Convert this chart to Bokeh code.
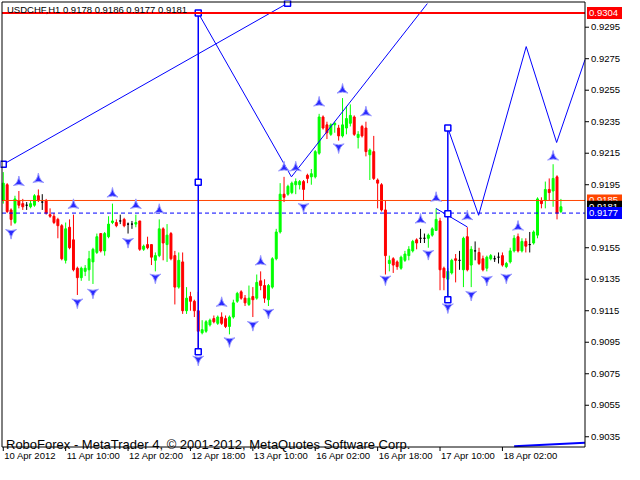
from bokeh.plotting import figure
from bokeh.models import Range1d, ColumnDataSource
from bokeh.core.properties import value
from bokeh.embed import file_html
from bokeh.resources import INLINE

# ---------------- data (USDCHF H1) ----------------
bar_open = [0.9185, 0.9195, 0.9179, 0.9171, 0.9185, 0.9183, 0.9182, 0.9181, 0.9182, 0.9188,
            0.9184, 0.9185, 0.9176, 0.9175, 0.9173, 0.9169, 0.9147, 0.9168, 0.9160, 0.9142,
            0.9136, 0.9140, 0.9141, 0.9146, 0.9152, 0.9164, 0.9153, 0.9162, 0.9171, 0.9171,
            0.9172, 0.9173, 0.9170, 0.9170, 0.9170, 0.9172, 0.9154, 0.9157, 0.9157, 0.9147,
            0.9150, 0.9167, 0.9157, 0.9164, 0.9150, 0.9130, 0.9146, 0.9115, 0.9124, 0.9121,
            0.9115, 0.9101, 0.9102, 0.9106, 0.9110, 0.9107, 0.9111, 0.9110, 0.9105, 0.9111,
            0.9121, 0.9127, 0.9123, 0.9119, 0.9124, 0.9123, 0.9134, 0.9131, 0.9122, 0.9130,
            0.9148, 0.9165, 0.9189, 0.9189, 0.9190, 0.9195, 0.9195, 0.9197, 0.9201, 0.9200,
            0.9200, 0.9215, 0.9238, 0.9233, 0.9227, 0.9233, 0.9231, 0.9226, 0.9231, 0.9234,
            0.9238, 0.9225, 0.9232, 0.9231, 0.9214, 0.9216, 0.9198, 0.9195, 0.9179, 0.9145,
            0.9148, 0.9146, 0.9142, 0.9147, 0.9150, 0.9153, 0.9160, 0.9161, 0.9161, 0.9161,
            0.9163, 0.9166, 0.9172, 0.9142, 0.9135, 0.9139, 0.9148, 0.9147, 0.9141, 0.9162,
            0.9144, 0.9153, 0.9152, 0.9148, 0.9142, 0.9148, 0.9148, 0.9149, 0.9150, 0.9143,
            0.9146, 0.9153, 0.9162, 0.9153, 0.9159, 0.9157, 0.9158, 0.9163, 0.9185, 0.9185,
            0.9192, 0.9191, 0.9200, 0.9178]
bar_high = [0.9203, 0.9196, 0.9180, 0.9188, 0.9191, 0.9186, 0.9184, 0.9185, 0.9189, 0.9192,
            0.9189, 0.9186, 0.9180, 0.9177, 0.9174, 0.9170, 0.9171, 0.9173, 0.9176, 0.9143,
            0.9143, 0.9144, 0.9153, 0.9155, 0.9164, 0.9164, 0.9165, 0.9175, 0.9183, 0.9173,
            0.9176, 0.9174, 0.9171, 0.9172, 0.9176, 0.9172, 0.9157, 0.9162, 0.9157, 0.9152,
            0.9173, 0.9168, 0.9170, 0.9165, 0.9153, 0.9152, 0.9152, 0.9130, 0.9127, 0.9122,
            0.9127, 0.9109, 0.9109, 0.9110, 0.9112, 0.9112, 0.9114, 0.9112, 0.9112, 0.9122,
            0.9127, 0.9128, 0.9125, 0.9131, 0.9130, 0.9138, 0.9140, 0.9135, 0.9132, 0.9149,
            0.9167, 0.9196, 0.9200, 0.9195, 0.9197, 0.9199, 0.9198, 0.9198, 0.9202, 0.9205,
            0.9217, 0.9240, 0.9239, 0.9235, 0.9234, 0.9235, 0.9233, 0.9250, 0.9245, 0.9246,
            0.9239, 0.9229, 0.9233, 0.9235, 0.9218, 0.9226, 0.9199, 0.9196, 0.9185, 0.9150,
            0.9149, 0.9147, 0.9150, 0.9153, 0.9156, 0.9160, 0.9161, 0.9167, 0.9164, 0.9164,
            0.9168, 0.9180, 0.9174, 0.9143, 0.9142, 0.9148, 0.9151, 0.9153, 0.9162, 0.9168,
            0.9156, 0.9159, 0.9155, 0.9150, 0.9150, 0.9151, 0.9150, 0.9152, 0.9152, 0.9146,
            0.9155, 0.9163, 0.9164, 0.9161, 0.9161, 0.9165, 0.9166, 0.9187, 0.9187, 0.9197,
            0.9199, 0.9208, 0.9201, 0.9186]
bar_low = [0.9183, 0.9177, 0.9169, 0.9170, 0.9180, 0.9179, 0.9179, 0.9180, 0.9181, 0.9184,
           0.9179, 0.9176, 0.9174, 0.9170, 0.9161, 0.9147, 0.9145, 0.9154, 0.9140, 0.9125,
           0.9134, 0.9137, 0.9134, 0.9132, 0.9151, 0.9152, 0.9150, 0.9161, 0.9170, 0.9168,
           0.9170, 0.9168, 0.9164, 0.9167, 0.9168, 0.9153, 0.9153, 0.9154, 0.9144, 0.9140,
           0.9149, 0.9147, 0.9146, 0.9147, 0.9119, 0.9129, 0.9113, 0.9113, 0.9115, 0.9111,
           0.9090, 0.9100, 0.9101, 0.9105, 0.9107, 0.9106, 0.9106, 0.9104, 0.9100, 0.9110,
           0.9120, 0.9122, 0.9118, 0.9118, 0.9111, 0.9122, 0.9128, 0.9120, 0.9118, 0.9129,
           0.9147, 0.9164, 0.9184, 0.9188, 0.9189, 0.9189, 0.9192, 0.9185, 0.9196, 0.9195,
           0.9199, 0.9214, 0.9230, 0.9224, 0.9226, 0.9228, 0.9223, 0.9225, 0.9227, 0.9232,
           0.9226, 0.9218, 0.9225, 0.9213, 0.9198, 0.9198, 0.9180, 0.9178, 0.9138, 0.9140,
           0.9139, 0.9141, 0.9141, 0.9146, 0.9147, 0.9152, 0.9154, 0.9158, 0.9158, 0.9155,
           0.9162, 0.9166, 0.9128, 0.9128, 0.9123, 0.9138, 0.9133, 0.9141, 0.9130, 0.9140,
           0.9130, 0.9147, 0.9144, 0.9140, 0.9140, 0.9147, 0.9146, 0.9145, 0.9143, 0.9142,
           0.9145, 0.9152, 0.9152, 0.9152, 0.9152, 0.9152, 0.9157, 0.9161, 0.9180, 0.9180,
           0.9185, 0.9181, 0.9173, 0.9177]
bar_close = [0.9196, 0.9178, 0.9173, 0.9186, 0.9182, 0.9181, 0.9182, 0.9183, 0.9188, 0.9185,
             0.9184, 0.9177, 0.9175, 0.9171, 0.9169, 0.9148, 0.9167, 0.9155, 0.9141, 0.9136,
             0.9142, 0.9142, 0.9148, 0.9154, 0.9162, 0.9153, 0.9164, 0.9170, 0.9172, 0.9169,
             0.9172, 0.9169, 0.9170, 0.9170, 0.9171, 0.9154, 0.9156, 0.9155, 0.9149, 0.9150,
             0.9167, 0.9158, 0.9163, 0.9148, 0.9130, 0.9147, 0.9115, 0.9123, 0.9121, 0.9115,
             0.9102, 0.9103, 0.9108, 0.9109, 0.9108, 0.9111, 0.9107, 0.9105, 0.9111, 0.9120,
             0.9126, 0.9123, 0.9120, 0.9123, 0.9122, 0.9133, 0.9131, 0.9123, 0.9131, 0.9148,
             0.9165, 0.9189, 0.9187, 0.9194, 0.9196, 0.9197, 0.9197, 0.9192, 0.9199, 0.9202,
             0.9216, 0.9238, 0.9231, 0.9228, 0.9233, 0.9234, 0.9226, 0.9233, 0.9237, 0.9239,
             0.9227, 0.9227, 0.9226, 0.9216, 0.9217, 0.9199, 0.9196, 0.9179, 0.9150, 0.9147,
             0.9144, 0.9143, 0.9149, 0.9151, 0.9154, 0.9159, 0.9158, 0.9161, 0.9161, 0.9163,
             0.9167, 0.9173, 0.9141, 0.9136, 0.9140, 0.9147, 0.9147, 0.9147, 0.9161, 0.9141,
             0.9154, 0.9153, 0.9145, 0.9141, 0.9149, 0.9150, 0.9148, 0.9149, 0.9144, 0.9145,
             0.9153, 0.9161, 0.9153, 0.9159, 0.9156, 0.9157, 0.9165, 0.9186, 0.9183, 0.9192,
             0.9190, 0.9199, 0.9177, 0.9181]

# fractal arrows (bar index, price of the arrow)
frac_up_bar = [4, 9, 18, 28, 34, 40, 56, 66, 72, 75, 81, 87, 93, 107, 111, 119, 132, 141]
frac_up_price = [0.91965, 0.91984, 0.91820, 0.91892, 0.91820, 0.91789, 0.91198, 0.91461, 0.92058,
                 0.92058, 0.92470, 0.92552, 0.92408, 0.91727, 0.91865, 0.91748, 0.91682, 0.92127]
frac_dn_bar = [2, 19, 23, 32, 39, 50, 58, 64, 68, 77, 86, 98, 109, 114, 120, 124, 129]
frac_dn_price = [0.91645, 0.91204, 0.91266, 0.91588, 0.91362, 0.90841, 0.90958, 0.91061, 0.91139,
                 0.91810, 0.92189, 0.91350, 0.91512, 0.91173, 0.91252, 0.91348, 0.91362]

# drawn objects
trend_bar = [-0.325, 72.9]
trend_price = [0.92075, 0.93102]
zig1_bar = [50, 73.9, 108.75]
zig1_price = [0.9304, 0.9200, 0.9310]
zig2_bar = [114, 121.9, 134.1, 141.9, 149.175]
zig2_price = [0.9231, 0.91756, 0.92827, 0.92218, 0.92744]
handle_bar = [111, 119]
handle_price = [0.91799, 0.91682]
vert_bar = [50, 114]
vert_top = [0.9304, 0.9231]
vert_bottom = [0.9089, 0.9122]
node_bar = [0, 72.9, 50, 50, 50, 114, 114, 114]
node_price = [0.9208, 0.93102, 0.9304, 0.91965, 0.9089, 0.9231, 0.91766, 0.9122]
base_bar = [131, 149.175]
base_price = [0.90290, 0.90312]

level_price = [0.9304, 0.9185, 0.9181, 0.9177]
level_color = ["#FF0000", "#FF4500", "#000000", "#0000FF"]

price_ticks = [0.9035, 0.9055, 0.9075, 0.9095, 0.9115, 0.9135, 0.9155, 0.9195, 0.9215, 0.9235,
               0.9255, 0.9275, 0.9295]
time_tick_bar = [0, 16, 32, 48, 64, 80, 96, 112, 128]
time_tick_label = ["10 Apr 2012", "11 Apr 10:00", "12 Apr 02:00", "12 Apr 18:00", "13 Apr 10:00",
                   "16 Apr 02:00", "16 Apr 18:00", "17 Apr 10:00", "18 Apr 02:00"]

title_text = "USDCHF,H1  0.9178 0.9186 0.9177 0.9181"
footer_text = "RoboForex - MetaTrader 4, \u00a9 2001-2012, MetaQuotes Software Corp."

# ---------------- geometry ----------------
FONT = value("Liberation Sans")
X0, X1 = -0.325, 149.175          # visible bar range of the chart window
Y0, Y1 = 0.90285, 0.93110          # visible price range of the chart window
W, H = 624, 464
CL, CR, CT, CB = 1.5, 584.5, 1.5, 446.5   # chart window edges in canvas pixels
bpp = (X1 - X0) / (CR - CL)       # bars per pixel
ppp = (Y1 - Y0) / (CB - CT)       # price per pixel
def dx(px): return px * bpp
def dy(px): return px * ppp

p = figure(width=W, height=H, output_backend="svg", toolbar_location=None,
           x_range=Range1d(X0 - dx(CL), X1 + dx(W - CR)),
           y_range=Range1d(Y0 - dy(H - CB), Y1 + dy(CT)),
           x_axis_location=None, y_axis_location=None,
           min_border=0, min_border_left=0, min_border_right=0, min_border_top=0, min_border_bottom=0)
p.grid.visible = False
p.outline_line_color = None
p.background_fill_color = "white"
p.border_fill_color = "white"

# candles
idx = list(range(len(bar_open)))
colors = ["#00FF00" if c > o else ("#FF0000" if c < o else "#000000") for o, c in zip(bar_open, bar_close)]
src = ColumnDataSource(dict(x=idx, o=bar_open, h=bar_high, l=bar_low, c=bar_close,
                            top=[max(o, c) for o, c in zip(bar_open, bar_close)],
                            bot=[min(o, c) for o, c in zip(bar_open, bar_close)],
                            col=colors))
p.segment(x0="x", y0="h", x1="x", y1="l", source=src, line_color="col", line_width=1)
p.vbar(x="x", top="top", bottom="bot", width=0.5, source=src, fill_color="col", line_color="col", line_width=1)

# horizontal levels inside the chart window
p.segment(x0=[X0], y0=[level_price[1]], x1=[X1], y1=[level_price[1]], line_color="#FF4500", line_width=1)
p.segment(x0=[X0], y0=[level_price[3]], x1=[X1], y1=[level_price[3]], line_color="#0000FF", line_width=1,
          line_dash="4 3")

# drawn lines
p.line(trend_bar, trend_price, line_color="#0000FF", line_width=1)
p.line(zig1_bar, zig1_price, line_color="#0000FF", line_width=1)
p.line(zig2_bar, zig2_price, line_color="#0000FF", line_width=1)
p.line(handle_bar, handle_price, line_color="#0000FF", line_width=1)
p.line(base_bar, base_price, line_color="#0000FF", line_width=2)
p.segment(x0=vert_bar, y0=vert_top, x1=vert_bar, y1=vert_bottom, line_color="#0000FF", line_width=1.5)
p.scatter(node_bar, node_price, marker="square", size=6, fill_color="white", line_color="#0000FF", line_width=1.5)

# fractals
p.scatter(frac_up_bar, frac_up_price, marker="triangle_pin", size=11, fill_color="#2a2aff",
          line_color="#9a9aff", line_width=1)
p.scatter(frac_dn_bar, frac_dn_price, marker="triangle_pin", angle=3.14159, size=11, fill_color="#2a2aff",
          line_color="#9a9aff", line_width=1)

# red level line
p.segment(x0=[X0], y0=[level_price[0]], x1=[X1], y1=[level_price[0]], line_color="#FF0000", line_width=2)

# title and footer
p.text(x=[X0 + dx(5)], y=[Y1 - dy(1.5)], text=[title_text], text_font=FONT, text_font_size="9.5px",
       text_color="black", text_baseline="top", text_align="left")
p.text(x=[X0 + dx(4)], y=[Y0 + dy(3)], text=[footer_text], text_font=FONT, text_font_size="13px",
       text_color="black", text_baseline="alphabetic", text_align="left")

# chart window border
p.quad(left=[X0], right=[X1], bottom=[Y0], top=[Y1], fill_color=None, line_color="black", line_width=1)

# price scale (right)
p.segment(x0=[X1] * len(price_ticks), y0=price_ticks, x1=[X1 + dx(4)] * len(price_ticks), y1=price_ticks,
          line_color="black", line_width=1)
p.text(x=[X1 + dx(6)] * len(price_ticks), y=price_ticks, text=["%.4f" % t for t in price_ticks],
       text_font=FONT, text_font_size="9.5px", text_color="black", text_baseline="middle", text_align="left")

# time scale (bottom)
p.segment(x0=time_tick_bar, y0=[Y0] * len(time_tick_bar), x1=time_tick_bar, y1=[Y0 - dy(4)] * len(time_tick_bar),
          line_color="black", line_width=1)
p.text(x=[t + dx(1) for t in time_tick_bar], y=[Y0 - dy(2.5)] * len(time_tick_bar), text=time_tick_label,
       text_font=FONT, text_font_size="9.5px", text_color="black", text_baseline="top", text_align="left")

# price tags on the scale
for lvl, bg in zip(level_price, level_color):
    p.quad(left=[X1 + dx(2)], right=[X1 + dx(37)], bottom=[lvl - dy(6)], top=[lvl + dy(6)],
           fill_color=bg, line_color=None)
    p.text(x=[X1 + dx(4)], y=[lvl], text=["%.4f" % lvl], text_font=FONT, text_font_size="9.5px",
           text_color="white", text_baseline="middle", text_align="left")

open("out.html", "w").write(file_html(p, INLINE))
